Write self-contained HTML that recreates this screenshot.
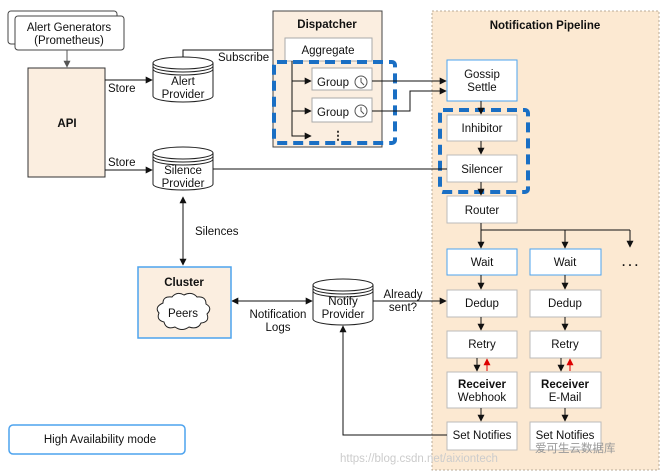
<!DOCTYPE html>
<html><head><meta charset="utf-8"><style>
html,body{margin:0;padding:0;background:#fff}
svg{display:block}
text{font-family:"Liberation Sans",Arial,sans-serif;font-size:11.5px;fill:#111}
.b{font-weight:bold}
</style></head><body>
<svg width="667" height="475" viewBox="0 0 667 475" xmlns="http://www.w3.org/2000/svg">
<defs>
<marker id="a" viewBox="0 0 10 10" refX="9" refY="5" markerWidth="7" markerHeight="7" orient="auto-start-reverse"><path d="M0,0 L10,5 L0,10 z" fill="#111"/></marker>
<marker id="ag" viewBox="0 0 10 10" refX="9" refY="5" markerWidth="7" markerHeight="7" orient="auto"><path d="M0,0 L10,5 L0,10 z" fill="#555"/></marker>
<marker id="r" viewBox="0 0 10 10" refX="9" refY="5" markerWidth="7" markerHeight="7" orient="auto"><path d="M0,0 L10,5 L0,10 z" fill="#d00"/></marker>
</defs>
<rect x="432" y="11" width="227" height="459" fill="#fce9d2" stroke="#b9ab98" stroke-dasharray="2,2"/>
<text x="545" y="29" text-anchor="middle" class="b" font-size="12">Notification Pipeline</text>
<rect x="8" y="11" width="109" height="33" rx="3" fill="#fff" stroke="#444"/>
<rect x="15" y="16" width="109" height="34" rx="3" fill="#fff" stroke="#444"/>
<text x="69" y="31" text-anchor="middle">Alert Generators</text>
<text x="69" y="44" text-anchor="middle">(Prometheus)</text>
<line x1="67" y1="50" x2="67" y2="67" stroke="#555" marker-end="url(#ag)"/>
<rect x="28" y="68" width="77" height="109" fill="#fbeee0" stroke="#333"/>
<text x="67" y="127" text-anchor="middle" class="b">API</text>
<line x1="105" y1="80" x2="152" y2="80" stroke="#111" marker-end="url(#a)"/>
<text x="108" y="92">Store</text>
<line x1="105" y1="170" x2="152" y2="170" stroke="#111" marker-end="url(#a)"/>
<text x="108" y="166">Store</text>
<g fill="#fff" stroke="#222">
<path d="M153,63 v33 a30,6 0 0 0 60,0 v-33"/><ellipse cx="183" cy="63" rx="30" ry="6"/><path d="M153,66 a30,6 0 0 0 60,0 M153,69 a30,6 0 0 0 60,0" fill="none"/>
<path d="M153,153 v31 a30,6 0 0 0 60,0 v-31"/><ellipse cx="183" cy="153" rx="30" ry="6"/><path d="M153,156 a30,6 0 0 0 60,0 M153,159 a30,6 0 0 0 60,0" fill="none"/>
<path d="M313,285 v34 a30,6 0 0 0 60,0 v-34"/><ellipse cx="343" cy="285" rx="30" ry="6"/><path d="M313,288 a30,6 0 0 0 60,0 M313,291 a30,6 0 0 0 60,0" fill="none"/>
</g>
<text x="183" y="85" text-anchor="middle">Alert</text><text x="183" y="98" text-anchor="middle">Provider</text>
<text x="183" y="174" text-anchor="middle">Silence</text><text x="183" y="187" text-anchor="middle">Provider</text>
<text x="343" y="305" text-anchor="middle">Notify</text><text x="343" y="318" text-anchor="middle">Provider</text>
<polyline points="183,57 183,50 284,50" fill="none" stroke="#111" marker-end="url(#a)"/>
<text x="218" y="61">Subscribe</text>
<rect x="273" y="11" width="109" height="136" fill="#fbeee0" stroke="#444"/>
<text x="327" y="28" text-anchor="middle" class="b">Dispatcher</text>
<rect x="285" y="38" width="87" height="23" fill="#fff" stroke="#aaa"/>
<text x="328" y="54" text-anchor="middle">Aggregate</text>
<rect x="312" y="68" width="60" height="22" fill="#fff" stroke="#aaa"/>
<rect x="312" y="98" width="60" height="24" fill="#fff" stroke="#aaa"/>
<text x="317" y="86">Group</text><text x="317" y="116">Group</text>
<circle cx="361" cy="82" r="6" fill="none" stroke="#555"/><path d="M361,78 v4 l3,3" fill="none" stroke="#555"/>
<circle cx="361" cy="111" r="6" fill="none" stroke="#555"/><path d="M361,107 v4 l3,3" fill="none" stroke="#555"/>
<polyline points="292,61 292,136 311,136" fill="none" stroke="#111" marker-end="url(#a)"/>
<line x1="292" y1="81" x2="311" y2="81" stroke="#111" marker-end="url(#a)"/>
<line x1="292" y1="111" x2="311" y2="111" stroke="#111" marker-end="url(#a)"/>
<text x="338" y="139" text-anchor="middle" class="b">⋮</text>
<rect x="274" y="62" width="121" height="81" rx="3" fill="none" stroke="#1a6fc4" stroke-width="4" stroke-dasharray="10,6"/>
<line x1="372" y1="81" x2="446" y2="81" stroke="#111" marker-end="url(#a)"/>
<polyline points="372,111 410,111 410,91 446,91" fill="none" stroke="#111" marker-end="url(#a)"/>
<g fill="#fff" stroke="#bbb">
<rect x="447" y="115" width="70" height="26"/><rect x="447" y="155" width="70" height="27"/><rect x="447" y="196" width="70" height="27"/>
<rect x="447" y="290" width="70" height="27"/><rect x="530" y="290" width="71" height="27"/>
<rect x="447" y="331" width="70" height="27"/><rect x="530" y="331" width="71" height="27"/>
<rect x="447" y="372" width="70" height="36"/><rect x="530" y="372" width="71" height="36"/>
<rect x="447" y="422" width="70" height="28"/><rect x="530" y="422" width="71" height="28"/>
</g>
<g fill="#fff" stroke="#4da3ee">
<rect x="447" y="60" width="70" height="41"/><rect x="447" y="249" width="70" height="26"/><rect x="530" y="249" width="71" height="26"/>
</g>
<text x="482" y="78" text-anchor="middle">Gossip</text><text x="482" y="91" text-anchor="middle">Settle</text>
<text x="482" y="132" text-anchor="middle">Inhibitor</text>
<text x="482" y="173" text-anchor="middle">Silencer</text>
<text x="482" y="214" text-anchor="middle">Router</text>
<text x="482" y="266" text-anchor="middle">Wait</text><text x="565" y="266" text-anchor="middle">Wait</text>
<text x="482" y="307" text-anchor="middle">Dedup</text><text x="565" y="307" text-anchor="middle">Dedup</text>
<text x="482" y="348" text-anchor="middle">Retry</text><text x="565" y="348" text-anchor="middle">Retry</text>
<text x="482" y="388" text-anchor="middle" class="b">Receiver</text><text x="565" y="388" text-anchor="middle" class="b">Receiver</text>
<text x="482" y="401" text-anchor="middle">Webhook</text><text x="565" y="401" text-anchor="middle">E-Mail</text>
<text x="482" y="439" text-anchor="middle">Set Notifies</text><text x="565" y="439" text-anchor="middle">Set Notifies</text>
<text x="630" y="266" text-anchor="middle" class="b" font-size="13">. . .</text>
<rect x="440" y="110" width="88" height="82" rx="3" fill="none" stroke="#1a6fc4" stroke-width="4" stroke-dasharray="10,6"/>
<g stroke="#111" fill="none">
<line x1="481" y1="101" x2="481" y2="114" marker-end="url(#a)"/>
<line x1="481" y1="141" x2="481" y2="154" marker-end="url(#a)"/>
<line x1="481" y1="182" x2="481" y2="195" marker-end="url(#a)"/>
<polyline points="481,223 481,230 630,230"/>
<line x1="481" y1="230" x2="481" y2="248" marker-end="url(#a)"/>
<line x1="565" y1="230" x2="565" y2="248" marker-end="url(#a)"/>
<line x1="630" y1="230" x2="630" y2="247" marker-end="url(#a)"/>
<line x1="481" y1="275" x2="481" y2="289" marker-end="url(#a)"/><line x1="565" y1="275" x2="565" y2="289" marker-end="url(#a)"/>
<line x1="481" y1="317" x2="481" y2="330" marker-end="url(#a)"/><line x1="565" y1="317" x2="565" y2="330" marker-end="url(#a)"/>
<line x1="477" y1="358" x2="477" y2="371" marker-end="url(#a)"/><line x1="561" y1="358" x2="561" y2="371" marker-end="url(#a)"/>
<line x1="481" y1="408" x2="481" y2="421" marker-end="url(#a)"/><line x1="565" y1="408" x2="565" y2="421" marker-end="url(#a)"/>
<line x1="213" y1="169" x2="447" y2="169"/>
<line x1="183" y1="197" x2="183" y2="265" marker-start="url(#a)" marker-end="url(#a)"/>
<line x1="232" y1="301" x2="312" y2="301" marker-start="url(#a)" marker-end="url(#a)"/>
<line x1="373" y1="301" x2="446" y2="301" marker-end="url(#a)"/>
<polyline points="447,435 343,435 343,326" marker-end="url(#a)"/>
</g>
<line x1="487" y1="371" x2="487" y2="359" stroke="#d00" marker-end="url(#r)"/>
<line x1="570" y1="371" x2="570" y2="359" stroke="#d00" marker-end="url(#r)"/>
<text x="195" y="235">Silences</text>
<text x="278" y="318" text-anchor="middle">Notification</text><text x="278" y="331" text-anchor="middle">Logs</text>
<text x="403" y="298" text-anchor="middle">Already</text><text x="403" y="311" text-anchor="middle">sent?</text>
<rect x="138" y="267" width="93" height="71" fill="#fbeee0" stroke="#4da3ee" stroke-width="1.5"/>
<text x="184" y="286" text-anchor="middle" class="b">Cluster</text>
<path d="M163,303 q0,-7 9,-6 q5,-6 12,-2 q8,-4 13,2 q9,-1 9,7 q7,4 1,10 q3,8 -6,9 q-3,7 -12,4 q-7,5 -14,0 q-9,3 -11,-5 q-8,-2 -5,-9 q-5,-6 4,-10z" fill="#fff" stroke="#222"/>
<text x="183" y="317" text-anchor="middle">Peers</text>
<rect x="9" y="425" width="176" height="29" rx="4" fill="#fff" stroke="#4da3ee" stroke-width="1.5"/>
<text x="100" y="443" text-anchor="middle">High Availability mode</text>
<text x="340" y="462" font-family="Liberation Mono,monospace" font-size="14" style="fill:#ccc">https://blog.csdn.net/aixiontech</text>
<text x="535" y="452" font-family="Liberation Sans,Noto Sans CJK SC,sans-serif" font-size="14" style="fill:#999">爱可生云数据库</text>
</svg>
</body></html>
